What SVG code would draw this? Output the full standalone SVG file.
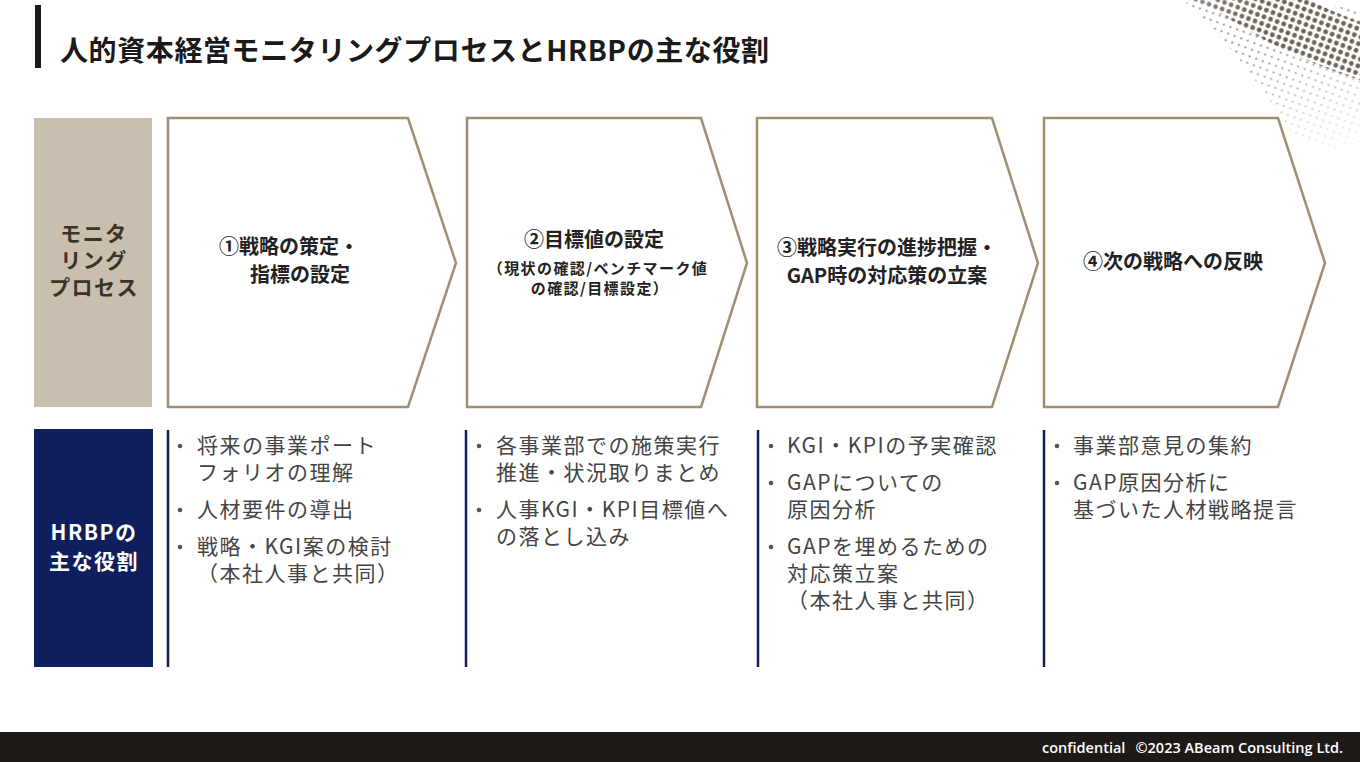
<svg xmlns="http://www.w3.org/2000/svg" width="1360" height="762" viewBox="0 0 1360 762">
<defs>
<style>
.jp{font-family:"Noto Sans CJK JP","Noto Sans",sans-serif;}
.ttl{font-size:28px;font-weight:700;fill:#1a1a1a;letter-spacing:0.6px;}
.lbl{font-size:21px;font-weight:700;text-anchor:middle;letter-spacing:1.5px;}
.hd{font-size:20px;font-weight:700;fill:#222;text-anchor:middle;}
.sub{font-size:15px;font-weight:700;fill:#222;text-anchor:middle;letter-spacing:1.4px;}
.bl{font-size:21px;font-weight:400;fill:#444;letter-spacing:1.5px;}
.bd{fill:#555;}
.chev{fill:#fff;stroke:#a08f6e;stroke-width:2.5;}
.vl{stroke:#0d1f5c;stroke-width:2.5;}
.ft{font-family:"Open Sans","Noto Sans",sans-serif;font-size:14.5px;font-weight:600;fill:#fff;}
</style>
<pattern id="pBig" width="7" height="7" patternUnits="userSpaceOnUse" patternTransform="rotate(20)">
<circle cx="3.5" cy="3.5" r="2.4" fill="#6f6253"/>
</pattern>
<pattern id="pSmall" width="7" height="7" patternUnits="userSpaceOnUse" patternTransform="rotate(20)">
<circle cx="3.5" cy="3.5" r="1.1" fill="#8a7d6e"/>
</pattern>
<linearGradient id="gBand" x1="1180" y1="0" x2="1360" y2="80" gradientUnits="userSpaceOnUse">
<stop offset="0" stop-color="#fff" stop-opacity="0.6"/>
<stop offset="0.4" stop-color="#fff" stop-opacity="1"/>
<stop offset="1" stop-color="#fff" stop-opacity="1"/>
</linearGradient>
<linearGradient id="gLight" x1="1300" y1="40" x2="1330" y2="160" gradientUnits="userSpaceOnUse">
<stop offset="0" stop-color="#fff" stop-opacity="1"/>
<stop offset="1" stop-color="#fff" stop-opacity="0"/>
</linearGradient>
<mask id="mBand"><path d="M1190,0 L1310,0 Q1332,12 1360,22 L1360,80 Q1290,58 1240,25 Q1212,8 1190,0 Z" fill="url(#gBand)"/></mask>
<mask id="mLight"><path d="M1183,0 Q1235,45 1293,135 L1360,160 L1360,10 Q1300,0 1280,0 Z" fill="url(#gLight)"/></mask>
</defs>
<rect width="1360" height="762" fill="#fff"/>
<g id="halftone">
<rect x="1170" y="0" width="190" height="170" fill="url(#pSmall)" mask="url(#mLight)"/>
<rect x="1170" y="0" width="190" height="100" fill="url(#pBig)" mask="url(#mBand)"/>
</g>
<g id="title">
<rect x="35" y="5" width="6" height="63" fill="#1a1a1a"/>
<text class="jp ttl" x="60" y="61">人的資本経営モニタリングプロセスとHRBPの主な役割</text>
</g>
<g id="label-monitoring">
<rect x="34" y="118" width="118" height="289" fill="#c9bfae"/>
<text class="jp lbl" fill="#3b3329"><tspan x="94" y="241">モニタ</tspan><tspan x="94" y="268">リング</tspan><tspan x="94" y="295">プロセス</tspan></text>
</g>
<g id="label-hrbp">
<rect x="34" y="429" width="119" height="238" fill="#0d1f5c"/>
<text class="jp lbl" fill="#fff"><tspan x="94" y="540">HRBPの</tspan><tspan x="94" y="569">主な役割</tspan></text>
</g>
<g id="step1">
<path class="chev" d="M168,118 L408,118 L456,263 L408,407 L168,407 Z"/>
<text class="jp hd"><tspan x="289" y="254">①戦略の策定・</tspan><tspan x="300" y="282">指標の設定</tspan></text>
</g>
<g id="step2">
<path class="chev" d="M467,118 L701,118 L747,263 L701,407 L467,407 Z"/>
<text class="jp hd" x="594" y="247">②目標値の設定</text>
<text class="jp sub"><tspan x="598" y="274">（現状の確認/ベンチマーク値</tspan><tspan x="600" y="294">の確認/目標設定）</tspan></text>
</g>
<g id="step3">
<path class="chev" d="M757,118 L992,118 L1038,263 L992,407 L757,407 Z"/>
<text class="jp hd"><tspan x="887" y="255">③戦略実行の進捗把握・</tspan><tspan x="887" y="283">GAP時の対応策の立案</tspan></text>
</g>
<g id="step4">
<path class="chev" d="M1044,118 L1278,118 L1325,263 L1278,407 L1044,407 Z"/>
<text class="jp hd" x="1173" y="269">④次の戦略への反映</text>
</g>
<g id="connectors">
<line class="vl" x1="168" y1="430" x2="168" y2="667"/>
<line class="vl" x1="466" y1="430" x2="466" y2="667"/>
<line class="vl" x1="758" y1="430" x2="758" y2="667"/>
<line class="vl" x1="1044" y1="430" x2="1044" y2="667"/>
</g>
<g id="role1">
<circle class="bd" cx="180" cy="446" r="2.3"/><circle class="bd" cx="180" cy="510" r="2.3"/><circle class="bd" cx="180" cy="547" r="2.3"/>
<text class="jp bl"><tspan x="197" y="453">将来の事業ポート</tspan><tspan x="197" y="480">フォリオの理解</tspan><tspan x="197" y="517">人材要件の導出</tspan><tspan x="197" y="554">戦略・KGI案の検討</tspan><tspan x="197" y="581">（本社人事と共同）</tspan></text>
</g>
<g id="role2">
<circle class="bd" cx="479" cy="446" r="2.3"/><circle class="bd" cx="479" cy="510" r="2.3"/>
<text class="jp bl"><tspan x="496" y="453">各事業部での施策実行</tspan><tspan x="496" y="480">推進・状況取りまとめ</tspan><tspan x="496" y="517">人事KGI・KPI目標値へ</tspan><tspan x="496" y="544">の落とし込み</tspan></text>
</g>
<g id="role3">
<circle class="bd" cx="771" cy="446" r="2.3"/><circle class="bd" cx="771" cy="483" r="2.3"/><circle class="bd" cx="771" cy="547" r="2.3"/>
<text class="jp bl"><tspan x="787" y="453">KGI・KPIの予実確認</tspan><tspan x="787" y="490">GAPについての</tspan><tspan x="787" y="517">原因分析</tspan><tspan x="787" y="554">GAPを埋めるための</tspan><tspan x="787" y="581">対応策立案</tspan><tspan x="787" y="608">（本社人事と共同）</tspan></text>
</g>
<g id="role4">
<circle class="bd" cx="1057" cy="446" r="2.3"/><circle class="bd" cx="1057" cy="483" r="2.3"/>
<text class="jp bl"><tspan x="1073" y="453">事業部意見の集約</tspan><tspan x="1073" y="490">GAP原因分析に</tspan><tspan x="1073" y="517">基づいた人材戦略提言</tspan></text>
</g>
<g id="footer">
<rect x="0" y="732" width="1360" height="30" fill="#1e1a17"/>
<text class="ft" x="1042" y="753">confidential</text>
<text class="ft" x="1343" y="753" text-anchor="end">©2023 ABeam Consulting Ltd.</text>
</g>
</svg>
